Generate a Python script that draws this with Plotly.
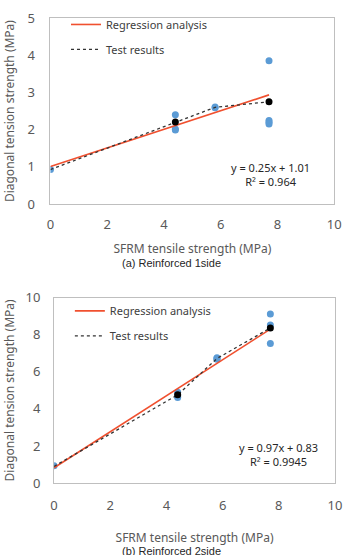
import plotly.graph_objects as go

# ---- data: (a) Reinforced 1side ----
a_x = [0, 4.4, 4.4, 4.4, 5.8, 5.8, 7.7, 7.7, 7.7, 7.7]
a_y = [0.93, 2.40, 2.02, 1.99, 2.61, 2.59, 3.85, 2.25, 2.20, 2.15]
a_mean_x = [0, 4.4, 5.8, 7.7]
a_mean_y = [0.93, 2.21, 2.60, 2.75]
a_slope, a_int = 0.25, 1.01
a_eq = ["y = 0.25x + 1.01", "R² = 0.964"]

# ---- data: (b) Reinforced 2side ----
b_x = [0, 4.4, 4.4, 4.4, 5.8, 5.8, 5.8, 7.7, 7.7, 7.7]
b_y = [0.93, 4.90, 4.70, 4.61, 6.76, 6.72, 6.68, 9.12, 8.52, 7.53]
b_mean_x = [0, 4.4, 5.8, 7.7]
b_mean_y = [0.90, 4.76, 6.72, 8.36]
b_slope, b_int = 0.97, 0.83
b_eq = ["y = 0.97x + 0.83", "R² = 0.9945"]

fit_x = [0, 7.7]
x_ticks = [0, 2, 4, 6, 8, 10]
a_y_ticks = [0, 1, 2, 3, 4, 5]
b_y_ticks = [0, 2, 4, 6, 8, 10]
captions = ["(a) Reinforced 1side", "(b) Reinforced 2side"]

W, H = 350, 555
FONT = "Noto Sans"
BLUE = "#5b9bd5"
RED = "#f0502f"
GRAY = "#595959"

fig = go.Figure()


def add_panel(xs, ys, mx, my, slope, icpt, xa, ya, legend):
    fig.add_trace(go.Scatter(
        x=xs, y=ys, mode="markers", xaxis=xa, yaxis=ya, showlegend=False,
        marker=dict(color=BLUE, size=7, line=dict(width=0))))
    fig.add_trace(go.Scatter(
        x=fit_x, y=[slope * v + icpt for v in fit_x], mode="lines",
        xaxis=xa, yaxis=ya, name="Regression analysis", legend=legend,
        legendgroup=legend + "r",
        line=dict(color=RED, width=1.6)))
    fig.add_trace(go.Scatter(
        x=mx, y=my, mode="lines", xaxis=xa, yaxis=ya,
        name="Test results", legend=legend, legendgroup=legend + "t",
        line=dict(color="#333333", width=1.3, dash="3px,3px")))
    fig.add_trace(go.Scatter(
        x=[mx[1], mx[3]], y=[my[1], my[3]], mode="markers",
        xaxis=xa, yaxis=ya, showlegend=False,
        marker=dict(color="black", size=7)))


add_panel(a_x, a_y, a_mean_x, a_mean_y, a_slope, a_int, "x", "y", "legend")
add_panel(b_x, b_y, b_mean_x, b_mean_y, b_slope, b_int, "x2", "y2", "legend2")


def px_y(p):
    return 1 - p / H


axis_common = dict(
    showgrid=False, zeroline=False, showline=True, mirror=True,
    linecolor="#bfbfbf", linewidth=1, ticks="",
    tickfont=dict(family=FONT, size=13, color=GRAY),
)

fig.update_layout(
    width=W, height=H, margin=dict(l=0, r=0, t=0, b=0),
    paper_bgcolor="white", plot_bgcolor="white",
    font=dict(family=FONT, color=GRAY),
    xaxis=dict(domain=[48 / W, 341 / W], range=[0, 10], tickvals=x_ticks,
               anchor="y", ticklabelstandoff=8,
               title=dict(text="SFRM tensile strength (MPa)", standoff=12,
                          font=dict(family=FONT, size=12, color=GRAY)),
               **axis_common),
    yaxis=dict(domain=[px_y(201.7), px_y(9.3)], range=[0, 5],
               tickvals=a_y_ticks, anchor="x", ticklabelstandoff=12,
               title=dict(text="Diagonal tension strength (MPa)", standoff=10,
                          font=dict(family=FONT, size=12, color=GRAY)),
               **axis_common),
    xaxis2=dict(domain=[51.7 / W, 341.7 / W], range=[0, 10], tickvals=x_ticks,
                anchor="y2", ticklabelstandoff=10,
                title=dict(text="SFRM tensile strength (MPa)", standoff=20,
                           font=dict(family=FONT, size=12, color=GRAY)),
                **axis_common),
    yaxis2=dict(domain=[px_y(490), px_y(298.3)], range=[0, 10],
                tickvals=b_y_ticks, anchor="x2", ticklabelstandoff=10,
                title=dict(text="Diagonal tension strength (MPa)", standoff=8,
                           font=dict(family=FONT, size=12, color=GRAY)),
                **axis_common),
    legend=dict(x=64 / W, y=px_y(1), xanchor="left", yanchor="top",
                bgcolor="rgba(0,0,0,0)", tracegroupgap=6,
                font=dict(family=FONT, size=11, color="#404040")),
    legend2=dict(x=68 / W, y=px_y(297), xanchor="left", yanchor="top",
                 bgcolor="rgba(0,0,0,0)", tracegroupgap=6,
                 font=dict(family=FONT, size=11, color="#404040")),
)

ann = []
for (cx, cy), eq in [((275, 171.5), a_eq), ((283, 460), b_eq)]:
    ann.append(dict(xref="paper", yref="paper", x=cx / W, y=px_y(cy),
                    text="<br>".join(eq), showarrow=False, xanchor="center",
                    yanchor="middle", align="center",
                    font=dict(family=FONT, size=11, color="#262626")))
for cy, cap in zip([263, 560], captions):
    ann.append(dict(xref="paper", yref="paper", x=173 / W, y=px_y(cy),
                    text=cap, showarrow=False, xanchor="center",
                    yanchor="middle",
                    font=dict(family="Liberation Sans", size=11,
                              color="#262626")))
fig.update_layout(annotations=ann)

fig.write_html("out.html")
